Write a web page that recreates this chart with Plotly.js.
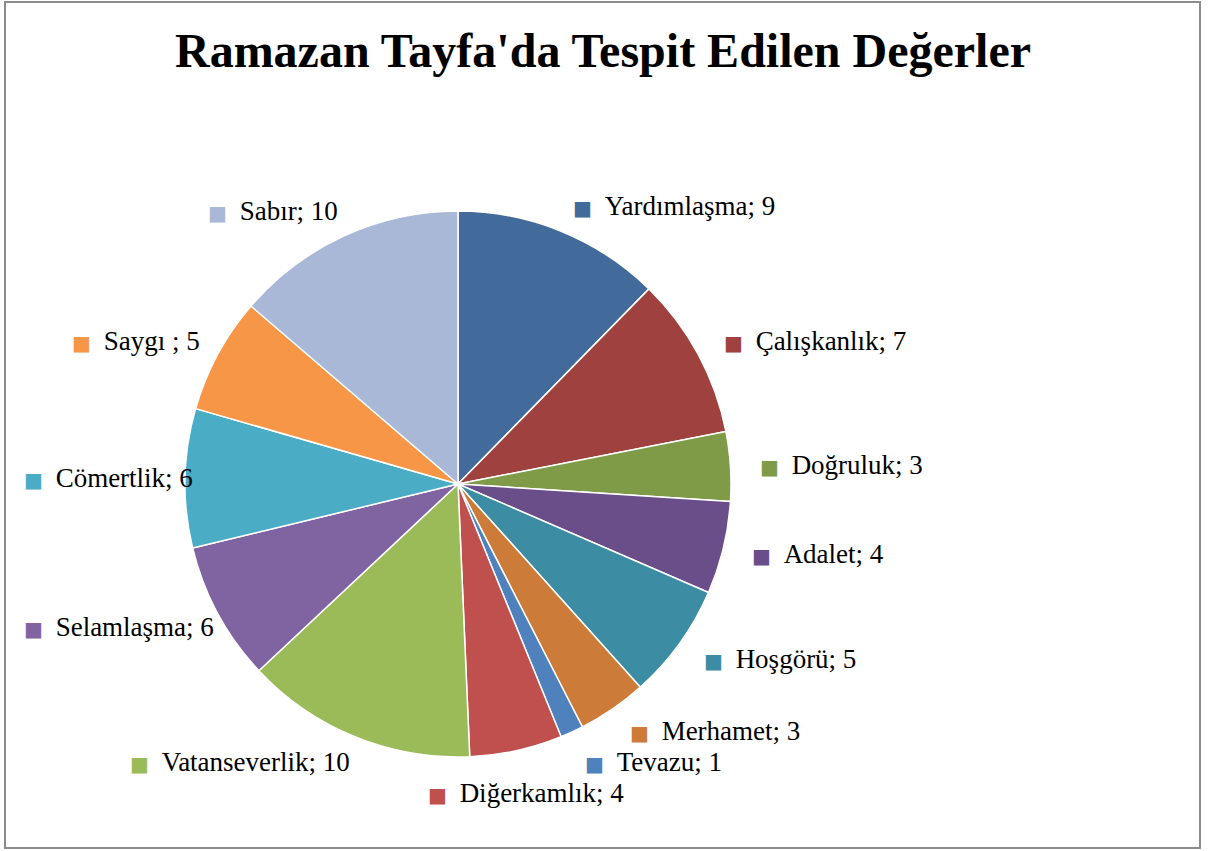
<!DOCTYPE html>
<html>
<head>
<meta charset="utf-8">
<script src="https://cdn.plot.ly/plotly-3.0.1.min.js"></script>
<style>
html,body{margin:0;padding:0;background:#fff;}
#chart{width:1214px;height:851px;}
</style>
</head>
<body>
<div id="chart"></div>
<script>
const labels = ["Yardımlaşma","Çalışkanlık","Doğruluk","Adalet","Hoşgörü","Merhamet","Tevazu","Diğerkamlık","Vatanseverlik","Selamlaşma","Cömertlik","Saygı ","Sabır"];
const values = [9,7,3,4,5,3,1,4,10,6,6,5,10];
const colors = ["#426A9B","#9E413F","#7F9B48","#6A4E8A","#3C8DA3","#CC7B38","#4F81BD","#C0504D","#9BBB59","#8064A2","#4BACC6","#F79646","#A9B8D7"];
const titleText = "Ramazan Tayfa'da Tespit Edilen Değerler";

const W = 1214, H = 851;
const cx = 458, cy = 484, r = 273;
const FONT = "Liberation Serif, Times New Roman, serif";
const FS = 27;
const SQ = 28;      // width taken by the colored square + gap
const LH = 31;      // label height
const PAD = 22;     // minimum distance of labels from the page edge
const total = values.reduce((a,b)=>a+b,0);

const ctx = document.createElement('canvas').getContext('2d');
ctx.font = FS + "px 'Liberation Serif'";

const boxes = [];
let cum = 0;
values.forEach((v,i)=>{
  const mid = (cum + v/2)/total * 2*Math.PI;
  cum += v;
  const R = r*1.1;
  const px = cx + R*Math.sin(mid);
  const py = cy - R*Math.cos(mid);
  const s = Math.sin(mid);
  const txt = labels[i] + "; " + v;
  const w = SQ + ctx.measureText(txt).width;
  let x0;
  if (s > 0.3) x0 = px; else if (s < -0.3) x0 = px - w; else x0 = px - w/2;
  x0 = Math.max(PAD, Math.min(W - PAD - w, x0));
  boxes.push({x0:x0, w:w, y:py, right: s >= 0});
});
// simple collision pass going clockwise down the right side
for (let i = 1; i < boxes.length; i++) {
  const a = boxes[i-1], b = boxes[i];
  if (!a.right || !b.right) continue;
  const overlapX = a.x0 < b.x0 + b.w && b.x0 < a.x0 + a.w;
  if (overlapX && b.y - a.y < LH) b.y = a.y + LH;
}

const annotations = boxes.map((b,i)=>({
  x: b.x0/W, y: 1 - b.y/H, xref:'paper', yref:'paper',
  xanchor:'left', yanchor:'middle', showarrow:false,
  text: "<span style='color:"+colors[i]+";font-family:DejaVu Sans;font-size:20px'>■&nbsp;&nbsp;</span>" + labels[i] + "; " + values[i],
  font:{family:FONT, size:FS, color:"#000"}
}));

const data = [{
  type:'pie',
  labels: labels,
  values: values,
  sort:false,
  direction:'clockwise',
  rotation:0,
  textinfo:'none',
  hoverinfo:'label+value',
  marker:{colors:colors, line:{color:'#ffffff', width:1.5}},
  domain:{x:[(cx-r)/W,(cx+r)/W], y:[(H-cy-r)/H,(H-cy+r)/H]},
  showlegend:false
}];

const layout = {
  width:W, height:H,
  margin:{l:0,r:0,t:0,b:0},
  paper_bgcolor:'#ffffff',
  title:{text:"<b>"+titleText+"</b>", x:603/W, xanchor:'center', y:1-50/H, yanchor:'middle',
    font:{family:FONT, size:48, color:'#000'}},
  annotations: annotations,
  shapes:[{type:'rect', xref:'paper', yref:'paper', x0:5/W, x1:1200/W, y0:1-848/H, y1:1-2/H,
    line:{color:'#8c8c8c', width:2}, fillcolor:'rgba(0,0,0,0)'}],
  showlegend:false
};

Plotly.newPlot('chart', data, layout, {displayModeBar:false, staticPlot:true});
</script>
</body>
</html>
